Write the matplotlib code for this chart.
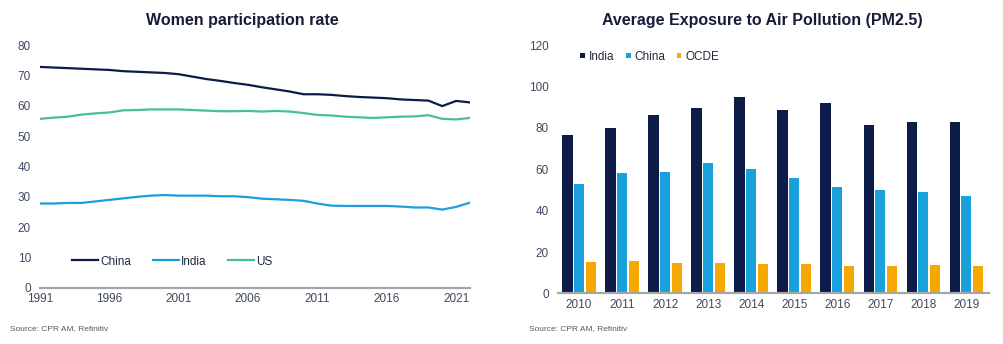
import matplotlib.pyplot as plt
import numpy as np

plt.rcParams['font.family'] = ['Liberation Sans', 'DejaVu Sans']

# Women participation rate (%)
years = list(range(1991, 2023))
china_rate = [72.8, 72.6, 72.4, 72.2, 72.0, 71.8, 71.4, 71.2, 71.0, 70.8,
              70.4, 69.6, 68.8, 68.2, 67.5, 66.9, 66.1, 65.4, 64.7, 63.8,
              63.8, 63.6, 63.2, 62.9, 62.7, 62.5, 62.1, 61.9, 61.7, 59.9,
              61.6, 61.1]
india_rate = [27.8, 27.8, 28.0, 28.0, 28.5, 29.0, 29.5, 30.0, 30.4, 30.6,
              30.4, 30.4, 30.4, 30.2, 30.2, 29.9, 29.4, 29.2, 29.0, 28.7,
              27.8, 27.1, 27.0, 27.0, 27.0, 27.0, 26.8, 26.5, 26.5, 25.8,
              26.7, 28.1]
us_rate = [55.7, 56.1, 56.4, 57.1, 57.5, 57.8, 58.5, 58.6, 58.8, 58.8,
           58.8, 58.6, 58.4, 58.2, 58.2, 58.3, 58.1, 58.3, 58.1, 57.6,
           57.0, 56.8, 56.4, 56.2, 56.0, 56.2, 56.4, 56.5, 56.9, 55.7,
           55.5, 56.0]

# Average exposure to PM2.5
pm_years = ['2010', '2011', '2012', '2013', '2014', '2015', '2016', '2017', '2018', '2019']
pm_india = [76.5, 80.0, 86.0, 89.5, 95.0, 88.5, 92.0, 81.5, 82.8, 83.0]
pm_china = [53.0, 58.2, 58.5, 63.0, 60.2, 56.0, 51.5, 49.8, 48.8, 47.2]
pm_ocde = [15.3, 15.6, 14.7, 14.7, 14.3, 14.3, 13.3, 13.3, 13.7, 13.3]

navy = '#0C1B48'
blue = '#1AA0DC'
teal = '#45BFA0'
orange = '#F7A800'
tick_col = '#3E4A5F'
spine_col = '#A6A6A6'
title_col = '#161C3A'

fig = plt.figure(figsize=(10.04, 3.44), dpi=100)
ax1 = fig.add_axes([40/1004, 0.163, 430/1004, 0.706])
ax2 = fig.add_axes([558/1004, 0.147, 431/1004, 0.722])

# 左图：折线
ax1.plot(years, china_rate, color=navy, lw=1.6, label='China')
ax1.plot(years, india_rate, color=blue, lw=1.6, label='India')
ax1.plot(years, us_rate, color=teal, lw=1.6, label='US')
ax1.set_xlim(1991, 2022)
ax1.set_ylim(0, 80)
ax1.set_xticks(range(1991, 2022, 5))
ax1.set_yticks(range(0, 81, 10))
ax1.legend(loc='lower left', bbox_to_anchor=(0.05, 0.04), ncol=3, frameon=False,
           fontsize=8.5, handlelength=2.2, handletextpad=0.2, columnspacing=1.8,
           labelcolor='#1F2A3C')

# 右图：柱状
x = np.arange(len(pm_years))
w = 0.235
ax2.bar(x - 0.27, pm_india, w, color=navy, label='India')
ax2.bar(x, pm_china, w, color=blue, label='China')
ax2.bar(x + 0.27, pm_ocde, w, color=orange, label='OCDE')
ax2.set_xlim(-0.49, 9.53)
ax2.set_ylim(0, 120)
ax2.set_xticks(x)
ax2.set_xticklabels(pm_years)
ax2.set_yticks(range(0, 121, 20))
ax2.legend(loc='upper left', bbox_to_anchor=(0.027, 1.02), ncol=3, frameon=False,
           fontsize=8.5, handlelength=0.4, handleheight=0.4, handletextpad=0.3,
           columnspacing=1.0, labelcolor='#1F2A3C')

for ax in (ax1, ax2):
    for s in ('top', 'right', 'left'):
        ax.spines[s].set_visible(False)
    ax.spines['bottom'].set_color(spine_col)
    ax.spines['bottom'].set_linewidth(1.6)
    ax.tick_params(length=0, labelsize=8.5, colors=tick_col)
    ax.tick_params(axis='y', pad=6.5)
    ax.tick_params(axis='x', pad=4)

fig.text(242/1004, 1 - 20/344, 'Women participation rate', ha='center', va='center',
         fontsize=11.5, fontweight='bold', color=title_col)
fig.text(762/1004, 1 - 20/344, 'Average Exposure to Air Pollution (PM2.5)', ha='center',
         va='center', fontsize=11.5, fontweight='bold', color=title_col)
fig.text(10/1004, 1 - 329/344, 'Source: CPR AM, Refinitiv', fontsize=6,
         color='#5A5A5A', va='center')
fig.text(529/1004, 1 - 329/344, 'Source: CPR AM, Refinitiv', fontsize=6,
         color='#5A5A5A', va='center')

fig.savefig('out.png', dpi=100)
